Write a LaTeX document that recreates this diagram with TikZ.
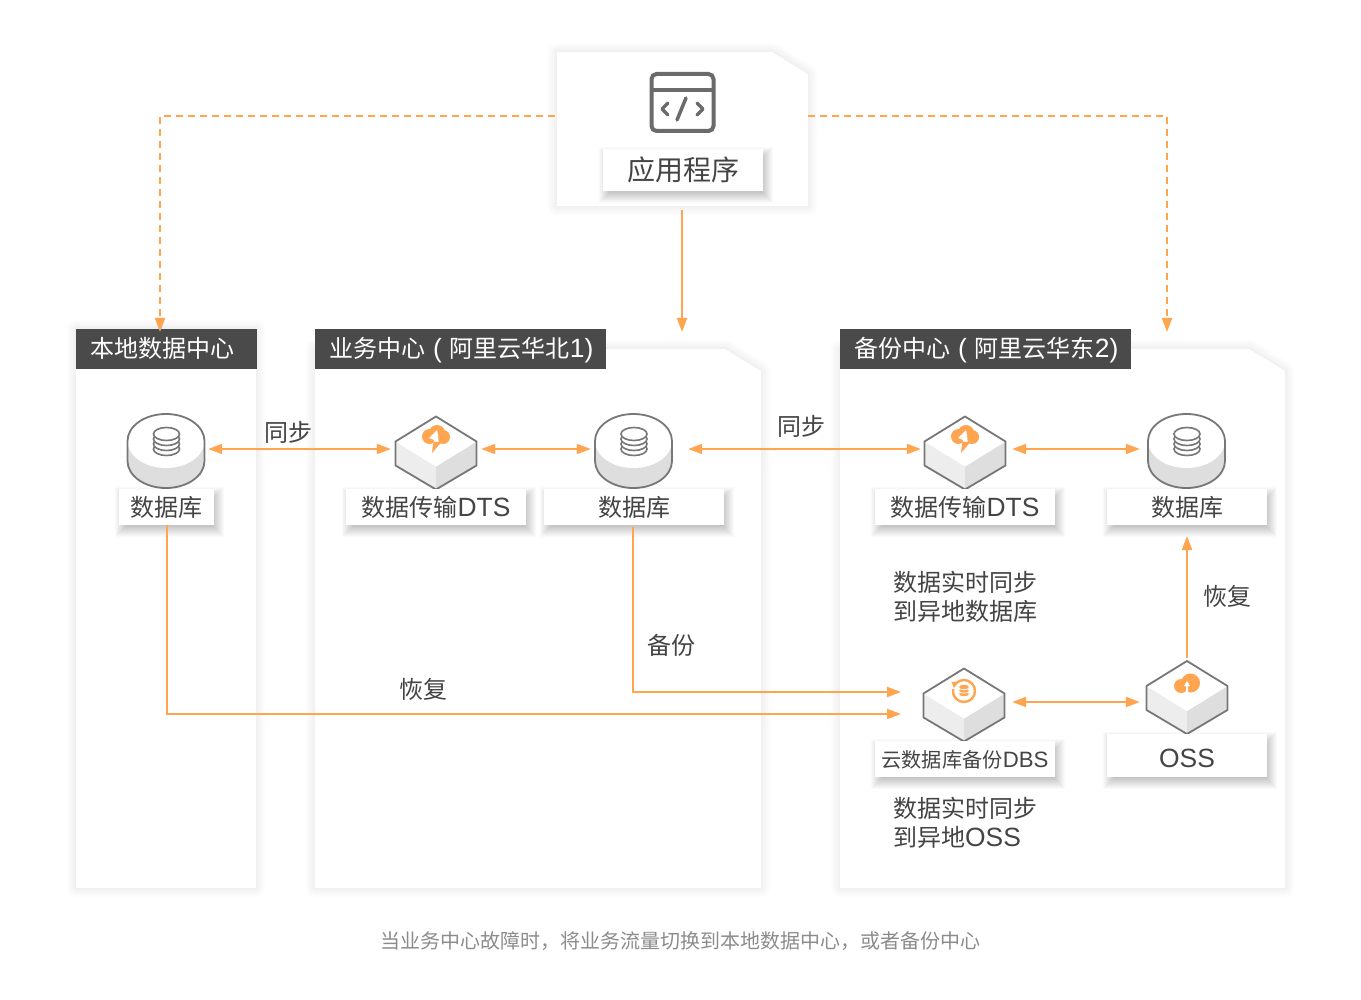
\documentclass[tikz,border=0pt]{standalone}
\usepackage{fontspec}
\setmainfont{Noto Sans CJK SC}
\newfontfamily\latfont[Scale=1.1]{Liberation Sans}
\usetikzlibrary{arrows.meta,calc}
\definecolor{org}{HTML}{FFA44F}
\definecolor{ink}{HTML}{444444}
\definecolor{edge}{HTML}{777777}
\definecolor{hdr}{HTML}{4A4A4A}
\newcommand\la[1]{{\latfont #1}}
\newcommand\st{\rule[-.12em]{0pt}{1em}}
\newcommand\softpanel[1]{%
  \foreach \w in {18,14,10,6,3}{\draw[black,opacity=.011,line width=\w pt,line join=round] #1;}
  \fill[white] #1;}
% name, x1, y1, x2, y2, font size, text
\newcommand\lab[7]{%
  \foreach \w in {7,6,5,4,3,2,1,0,-1,-2,-3,-4}{\fill[black,opacity=.02] ($(#2,#3)+(3-\w,5-\w)$) rectangle ($(#4,#5)+(3+\w,5+\w)$);}
  \node[lbl,font=\fontsize{#6}{#6}\selectfont,minimum width={(#4-#2)*1pt},minimum height={(#5-#3)*1pt}] (#1) at ({(#2+#4)/2},{(#3+#5)/2}) {\st #7};}
% cube: x of centre, y of top
\newcommand\cube[2]{%
  \begin{scope}[shift={(#1,#2)}]
    \fill[cubeL] (-40.5,25) -- (0,50) -- (0,73) -- (-40.5,49) -- cycle;
    \fill[cubeR] (40.5,25) -- (0,50) -- (0,73) -- (40.5,49) -- cycle;
    \fill[white] (0,0) -- (40.5,25) -- (0,50) -- (-40.5,25) -- cycle;
    \draw[edge,line width=1.8pt,line join=round] (0,0) -- (40.5,25) -- (40.5,49) -- (0,73) -- (-40.5,49) -- (-40.5,25) -- cycle;
  \end{scope}}
% database: x of centre, y of top
\newcommand\dbicon[2]{%
  \begin{scope}[shift={(#1,#2)}]
    \fill[cubeR] (-38.5,27) -- (-38.5,47) arc[start angle=180,end angle=360,x radius=38.5pt,y radius=27pt] -- (38.5,27) -- cycle;
    \fill[white] (0,27) ellipse[x radius=38.5pt,y radius=27pt];
    \draw[edge,line width=1.8pt] (-38.5,27) arc[start angle=180,end angle=0,x radius=38.5pt,y radius=27pt] -- (38.5,47) arc[start angle=0,end angle=-180,x radius=38.5pt,y radius=27pt] -- cycle;
    \foreach \yy in {35,30,25,20}{\filldraw[fill=white,draw=edge,line width=1.6pt] (0.5,\yy) ellipse[x radius=13pt,y radius=6.5pt];}
  \end{scope}}
\tikzset{
  lbl/.style={fill=white,text=ink,inner sep=0pt,align=center},
  cubeL/.style={fill=black!7},
  cubeR/.style={fill=black!13},
  hd/.style={fill=hdr,text=white,inner sep=0pt,font=\fontsize{24}{24}\selectfont,minimum height=40pt,text height=22pt,text depth=4pt,anchor=west,align=left},
  tx/.style={text=ink,inner sep=0pt,font=\fontsize{24}{29}\selectfont},
  ghost/.style={inner sep=0pt,minimum height=10pt},
  link/.style={org,line width=2pt,-{Triangle[length=14pt,width=10pt]}},
  dlink/.style={org,line width=2pt,{Triangle[length=14pt,width=10pt]}-{Triangle[length=14pt,width=10pt]}},
  dashlink/.style={org,line width=2pt,dash pattern=on 7pt off 5pt,-{Triangle[length=14pt,width=10pt]}},
}
\begin{document}
\begin{tikzpicture}[x=1pt,y=-1pt]
\useasboundingbox (0,0) rectangle (1361,1000);
\fill[white] (0,0) rectangle (1361,1000);
% panels
\softpanel{(76,329) -- (256,329) -- (256,888) -- (76,888) -- cycle}
\softpanel{(315,349) -- (725,349) -- (761,371) -- (761,888) -- (315,888) -- cycle}
\softpanel{(840,349) -- (1249,349) -- (1285,371) -- (1285,888) -- (840,888) -- cycle}
\softpanel{(557,52) -- (772,52) -- (808,74) -- (808,206) -- (557,206) -- cycle}
\node[inner sep=0pt,minimum width=251pt,minimum height=154pt] (app) at (682.5,129) {};
% headers
\node[hd,minimum width=181pt,text width=153pt] (h1) at (76,349) {\mbox{本地数据中心}};
\node[hd,minimum width=291pt,text width=263pt] (h2) at (315,349) {\mbox{业务中心 \la{(} 阿里云华北\la{1)}}};
\node[hd,minimum width=291pt,text width=263pt] (h3) at (840,349) {\mbox{备份中心 \la{(} 阿里云华东\la{2)}}};
% app icon
\draw[black!58,line width=4pt,rounded corners=5pt] (651.5,74) rectangle (713.5,131);
\draw[black!58,line width=3.5pt] (651.5,90) -- (713.5,90);
\draw[black!58,line width=3.5pt,line cap=round,line join=round] (668,103) -- (662,109) -- (668,115);
\draw[black!58,line width=3.5pt,line cap=round,line join=round] (697,103) -- (703,109) -- (697,115);
\draw[black!58,line width=3.5pt,line cap=round] (686,98) -- (677,120);
% icons
\dbicon{166}{414}
\dbicon{633.5}{414}
\dbicon{1186.5}{414}
\cube{436}{416.5}
\cube{965}{416.5}
\cube{964}{668.5}
\cube{1187}{661}
% cloud with bolt (DTS)
\foreach \cx in {436,965}{
  \begin{scope}[shift={(\cx,436)}]
    \fill[org] (-6.5,0.5) circle[radius=7.5pt] (1,-3) circle[radius=8pt] (7,1) circle[radius=7pt] (-4,1) rectangle (6,7);
    \fill[white] (1,-6) -- (-7,2) -- (-2,4) -- (-3,9) -- (3,9) -- (2,-1) -- cycle;
    \fill[org] (-2.5,5.5) -- (5,6.5) -- (-4,17) -- cycle;
  \end{scope}}
% backup icon (DBS)
\begin{scope}[shift={(964,691)}]
  \draw[org,line width=2.4pt] (0,0) ++(135:11pt) arc[start angle=135,end angle=-190,radius=11pt];
  \fill[org] (-12.5,-9) -- (-5,-9.5) -- (-10,-3) -- cycle;
  \foreach \yy in {3,-0.5,-4}{\filldraw[fill=org,draw=white,line width=.8pt] (0,\yy) ellipse[x radius=5.5pt,y radius=2.8pt];}
\end{scope}
% OSS icon
\begin{scope}[shift={(1187,684)}]
  \fill[org] (3.5,-1) circle[radius=9.5pt] (-6,2) circle[radius=7pt] (-1,-2) circle[radius=5pt];
  \fill[white] (0,-3) -- (3,2) -- (1,2) -- (1,8) -- (-1,8) -- (-1,2) -- (-3,2) -- cycle;
\end{scope}
% labels
\lab{appl}{603}{149}{763}{191}{28}{应用程序}
\lab{l1}{119}{489}{214}{525}{24}{数据库}
\lab{l2}{346}{489}{526}{525}{24}{数据传输\la{DTS}}
\lab{l3}{544}{489}{724}{525}{24}{数据库}
\lab{l4}{875}{489}{1055}{525}{24}{数据传输\la{DTS}}
\lab{l5}{1107}{489}{1267}{525}{24}{数据库}
\lab{l6}{875}{741}{1055}{777}{20.2}{\raisebox{-1pt}{云数据库备份\la{DBS}}}
\lab{l7}{1107}{734}{1267}{777}{24}{\raisebox{-2.5pt}{\la{OSS}}}
% anchors for connectors
\node[ghost,minimum width=78pt] (db1) at (166,449) {};
\node[ghost,minimum width=82pt] (dts1) at (436,449) {};
\node[ghost,minimum width=78pt] (db2) at (633,449) {};
\node[ghost,minimum width=82pt] (dts2) at (965,449) {};
\node[ghost,minimum width=78pt] (db3) at (1186,449) {};
\node[ghost,minimum width=82pt] (dbs) at (964,702) {};
\node[ghost,minimum width=82pt] (oss) at (1187,702) {};
\coordinate (al) at (555,116);
\coordinate (ar) at (808,116);
\coordinate (tl) at (160,332);
\coordinate (tm) at (682,332);
\coordinate (tr) at (1167,332);
\coordinate (b1) at (901,714);
\coordinate (b2) at (901,692);
\coordinate (up) at (1187,536);
\coordinate (upstart) at (1187,658);
\coordinate (l3b) at (633,527);
\coordinate (appb) at (682,210);
% connectors
\draw[dashlink] (al) -| (tl);
\draw[dashlink] (ar) -| (tr);
\draw[link] (appb) -- (tm);
\draw[dlink,shorten <=3pt,shorten >=4pt] (db1.east) -- (dts1.west);
\draw[dlink,shorten <=4pt,shorten >=3pt] (dts1.east) -- (db2.west);
\draw[dlink,shorten <=16pt,shorten >=3pt] (db2.east) -- (dts2.west);
\draw[dlink,shorten <=6pt,shorten >=7pt] (dts2.east) -- (db3.west);
\draw[dlink,shorten <=7pt,shorten >=6pt] (dbs.east) -- (oss.west);
\draw[link] (l1.south) |- (b1);
\draw[link] (l3b) |- (b2);
\draw[link] (upstart) -- (up);
% free text
\node[tx] (t1) at (288,432) {同步};
\node[tx] (t2) at (801,426) {同步};
\node[tx] (t3) at (671,645) {备份};
\node[tx] (t4) at (423,689) {恢复};
\node[tx] (t5) at (1227,596) {恢复};
\node[tx,align=left,anchor=west] (t6) at (893,596.5) {数据实时同步\\到异地数据库};
\node[tx,align=left,anchor=west] (t7) at (893,822.5) {数据实时同步\\到异地\la{OSS}};
\node[inner sep=0pt,text=black!45,font=\fontsize{20}{20}\selectfont] (cap) at (680.5,941.5) {当业务中心故障时，将业务流量切换到本地数据中心，或者备份中心};
\end{tikzpicture}
\end{document}
